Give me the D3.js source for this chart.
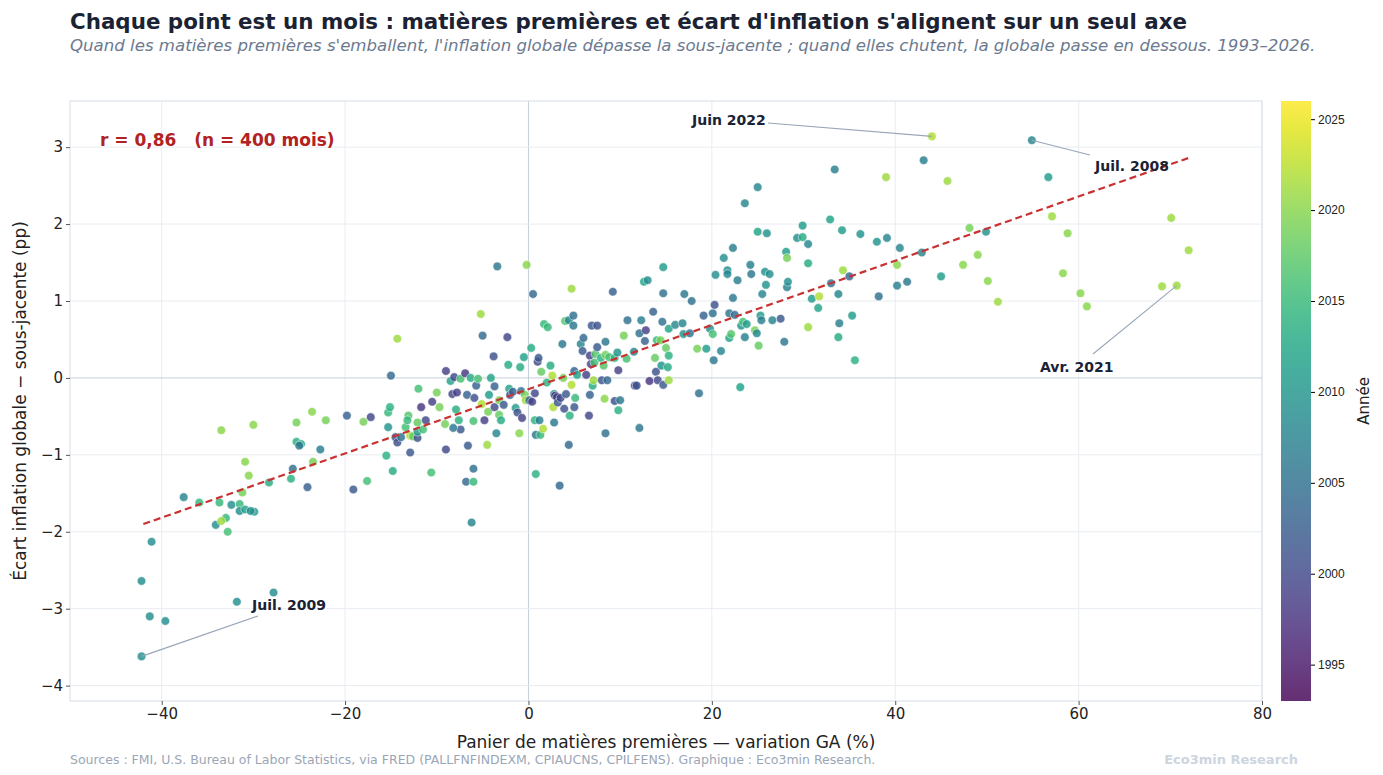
<!DOCTYPE html>
<html><head><meta charset="utf-8">
<script src="https://cdn.jsdelivr.net/npm/d3@7"></script>
<style>body{margin:0;background:#fff;font-family:"DejaVu Sans",sans-serif}</style>
</head><body><svg id="chart" width="1383" height="775"></svg>
<script>
// [commodity YoY %, headline - core (pp), year]
var points = [
[-42.2,-2.64,2009],[-41.1,-2.13,2009],[-41.3,-3.10,2009],[-39.6,-3.16,2009],[-42.2,-3.62,2009],[-31.8,-2.91,2009],[-27.8,-2.79,2009],
[-37.6,-1.55,2008],[-35.9,-1.62,2015],[-34.1,-1.91,2009],[-33.7,-1.62,2015],[-33.0,-1.82,2015],[-32.8,-2.0,2016],[-32.4,-1.65,2009],
[-31.5,-1.64,2015],[-31.5,-1.73,2009],[-31.2,-1.49,2019],[-30.9,-1.71,2012],[-29.9,-1.74,2011],[-30.3,-1.73,2009],[-33.5,-1.86,2021],
[-33.5,-0.68,2020],[-30.0,-0.61,2020],[-30.9,-1.09,2020],[-30.5,-1.27,2020],[-28.3,-1.36,2013],[-25.9,-1.31,2014],[-25.7,-1.18,2005],
[-24.1,-1.42,2003],[-23.5,-1.09,2019],[-22.7,-0.93,2007],[-25.3,-0.58,2019],[-25.3,-0.83,2014],[-24.8,-0.86,2013],[-25.0,-0.88,2006],
[-23.6,-0.44,2020],[-22.1,-0.55,2019],[-19.8,-0.49,2003],[-19.1,-1.45,2002],[-18.0,-0.57,2019],[-17.6,-1.34,2016],[-17.2,-0.51,2000],
[-15.5,-1.01,2014],[-15.3,-0.45,2015],[-15.3,-0.64,2010],[-15.1,-0.38,2014],[-15.0,0.03,2004],[-14.8,-1.21,2013],[-14.5,-0.77,2001],
[-14.3,-0.84,2001],[-14.3,0.51,2021],[-13.9,-0.77,2005],[-13.4,-0.64,2016],[-13.1,-0.49,2017],[-12.9,-0.97,2002],[-13.2,-0.55,2015],
[-12.9,-0.75,2022],[-12.6,-0.76,2018],[-12.1,-0.78,2001],[-12.1,-0.58,2018],[-12.0,-0.14,2016],[-12.1,-0.70,2011],[-11.7,-0.38,1998],
[-11.5,-0.67,2016],[-11.2,-0.55,2000],[-10.6,-1.23,2016],[-10.5,-0.31,1999],[-10.0,-0.19,2019],[-9.7,-0.38,2019],[-9.1,-0.60,2019],
[-9.0,-0.93,2000],[-9.0,0.09,1999],[-8.5,-0.04,2012],[-8.3,-0.21,2000],[-8.1,0.01,2000],[-7.9,-0.41,2013],[-7.8,-0.19,1999],
[-7.6,-0.55,2014],[-7.4,-0.67,2002],[-8.2,-0.65,2006],[-7.4,-0.01,2016],[-6.9,0.06,1998],[-6.8,-1.35,2004],[-6.6,-0.88,2002],
[-6.7,-0.22,2003],[-6.3,0.0,2013],[-6.0,-1.18,2005],[-6.0,-1.35,2015],[-6.2,-1.88,2008],[-6.0,-0.56,2016],[-5.9,-0.26,2001],
[-5.7,-0.1,2003],[-5.5,-0.01,2016],[-5.2,0.83,2021],[-5.1,-0.34,2022],[-5.0,0.55,2004],[-4.8,-0.55,1999],[-4.5,-0.87,2021],
[-4.4,-0.44,2019],[-4.3,-0.22,2011],[-4.1,0.0,2012],[-3.8,0.28,2001],[-3.7,-0.38,2000],[-3.7,-0.11,2003],[-3.5,-0.72,2008],
[-3.4,1.45,2006],[-3.2,-0.48,2018],[-3.2,-0.29,2019],[-3.0,-0.55,2013],[-2.7,-0.35,2002],[-2.3,0.53,2000],[-2.2,0.17,2013],
[-2.1,-0.14,2012],[-2.0,-0.22,2002],[-1.7,-0.18,2003],[-1.4,-0.39,2011],[-1.2,-0.45,2001],[-1.0,-0.72,2020],[-0.9,0.14,2013],
[-0.8,-0.17,2006],[-0.7,-0.52,1999],[-0.5,0.27,2012],[-0.4,-0.22,2019],[-0.3,-0.29,2021],[-0.2,1.47,2020],[0.1,-0.29,2003],
[0.3,0.39,2013],[0.4,-0.31,1999],[0.5,1.09,2004],[0.7,-0.2,2000],[0.8,-1.25,2014],[0.7,-0.55,2014],[0.8,-0.74,2006],
[1.0,0.21,2000],[1.1,0.26,2002],[1.2,-0.55,2007],[1.3,-0.74,2015],[1.4,0.08,2018],[1.6,-0.66,2022],[1.7,0.7,2015],
[2.0,-0.06,2014],[2.1,0.66,2015],[2.4,0.16,2013],[2.6,0.03,2022],[2.7,-0.38,2022],[2.8,-0.21,2008],[2.8,-0.58,2006],
[2.9,-0.23,1998],[3.1,-0.25,1999],[3.2,-0.32,2002],[3.4,-1.4,2004],[3.5,-0.26,2000],[3.7,0.44,2006],[3.8,0.0,2019],
[3.9,-0.40,2001],[4.0,0.74,2017],[4.1,-0.21,2002],[4.4,0.75,2008],[4.4,-0.87,2004],[4.5,-0.49,2014],[4.7,-0.09,2022],
[4.7,1.16,2021],[4.9,0.81,2005],[4.9,0.68,2006],[5.0,0.09,2003],[5.0,-0.38,2002],[5.1,-0.26,2015],[5.3,0.04,2012],
[5.7,0.44,2008],[5.9,0.35,2002],[6.0,0.52,2004],[6.3,0.04,1999],[6.6,-0.49,2000],[6.7,0.29,1999],[6.7,-0.22,2003],
[6.8,0.18,2000],[6.9,0.68,2002],[7.0,-0.1,2013],[7.1,-0.03,2021],[7.2,0.2,2016],[7.3,0.31,2017],[7.5,0.68,2001],
[7.5,0.40,2002],[7.9,0.26,2014],[8.0,-0.03,2001],[8.2,0.16,2017],[8.3,-0.27,2020],[8.4,0.47,2006],[8.4,0.30,2019],
[8.4,-0.72,2005],[8.6,-0.03,2004],[8.8,0.27,2016],[9.2,1.12,2003],[9.4,0.26,2014],[9.4,-0.3,2001],[9.7,0.33,2010],
[9.8,0.10,1999],[9.8,-0.42,2014],[10.0,-0.29,2006],[10.4,0.55,2019],[10.7,0.25,2016],[10.8,0.75,2005],[11.5,0.34,2008],
[11.6,-0.1,2000],[11.8,-0.1,2001],[12.1,0.58,2005],[12.1,-0.65,2006],[12.3,0.75,2007],[12.6,1.25,2012],[12.7,0.48,2003],
[12.8,0.62,1999],[13.0,1.27,2009],[13.2,-0.04,1998],[13.6,0.86,2003],[13.8,0.26,2018],[13.9,0.08,2001],[14.0,0.49,2015],
[14.1,-0.03,2000],[14.4,0.49,2019],[14.5,0.16,2010],[14.6,0.73,2005],[14.7,1.44,2011],[14.7,1.1,2005],[14.7,-0.09,2002],
[15.0,0.39,2018],[15.2,0.14,2013],[15.3,-0.03,2021],[15.3,0.64,2012],[15.3,0.29,2014],[16.0,0.69,2008],[16.8,0.71,2008],
[16.9,0.57,2010],[17.0,1.09,2006],[17.6,0.58,2005],[17.8,1.0,2005],[18.4,0.38,2019],[18.6,-0.2,2005],[19.1,0.81,2003],
[19.4,0.38,2011],[19.8,0.64,2009],[20.1,0.84,2005],[20.1,0.57,2016],[20.2,0.23,2006],[20.3,0.95,2001],[20.4,1.34,2009],
[21.0,0.35,2008],[21.3,1.56,2009],[21.7,1.4,2009],[21.7,1.35,2008],[21.9,0.52,2012],[21.9,0.84,2006],[22.1,0.57,2017],
[22.3,1.69,2007],[22.3,1.04,2006],[22.5,0.82,2004],[22.8,1.27,2007],[23.1,-0.12,2012],[23.2,0.68,2010],[23.4,0.73,2016],
[23.6,2.27,2008],[23.6,0.53,2007],[23.8,0.70,2011],[24.2,1.47,2007],[24.3,1.35,2006],[24.7,0.62,2019],[24.9,0.58,2008],
[25.0,2.48,2008],[25.0,1.9,2012],[25.1,0.42,2018],[25.3,0.81,2011],[25.4,0.75,2007],[25.5,1.09,2008],[25.8,1.38,2010],
[25.9,1.21,2010],[26.0,1.88,2010],[26.3,1.35,2009],[26.6,0.75,2008],[27.5,0.77,2002],[27.9,0.47,2006],[28.1,1.64,2011],
[28.2,1.56,2019],[28.2,1.18,2007],[28.3,1.25,2009],[29.3,1.82,2009],[29.9,1.98,2011],[29.9,1.83,2013],[30.5,1.74,2008],
[30.5,1.49,2013],[30.5,0.66,2021],[30.9,1.03,2011],[31.6,0.91,2012],[31.7,1.06,2022],[32.9,2.06,2012],[33.0,1.23,2005],
[33.4,2.71,2007],[33.8,1.09,2008],[33.8,0.53,2013],[33.9,0.71,2007],[34.2,1.92,2011],[34.3,1.40,2021],[35.0,1.32,2004],
[35.3,0.81,2011],[35.6,0.23,2014],[36.2,1.87,2010],[38.0,1.77,2010],[38.2,1.06,2005],[39.0,2.61,2021],[39.1,1.82,2008],
[40.2,1.47,2020],[40.2,1.20,2007],[40.5,1.69,2008],[41.3,1.25,2006],[42.9,1.63,2008],[43.1,2.83,2007],[44.0,3.14,2022],
[45.0,1.32,2011],[45.7,2.56,2021],[47.4,1.47,2020],[48.1,1.95,2019],[49.0,1.60,2020],[49.9,1.90,2010],[50.1,1.26,2020],
[51.2,0.99,2021],[54.9,3.09,2008],[56.7,2.61,2011],[57.1,2.10,2021],[58.3,1.36,2020],[58.8,1.88,2020],[60.2,1.10,2020],
[60.9,0.93,2020],[69.1,1.19,2021],[70.1,2.08,2021],[70.7,1.20,2021],[72.0,1.66,2021]
];
var xTicks = [-40,-20,0,20,40,60,80];
var yTicks = [-4,-3,-2,-1,0,1,2,3];
var yearTicks = [1995,2000,2005,2010,2015,2020,2025];
var annotations = [
  {label:"Juin 2022", x:44.0, y:3.14, tx:692, ty:125, lx:768, ly:123},
  {label:"Juil. 2008", x:54.9, y:3.09, tx:1095, ty:171, lx:1090, ly:155},
  {label:"Avr. 2021", x:70.7, y:1.20, tx:1040, ty:372, lx:1093, ly:354},
  {label:"Juil. 2009", x:-42.2, y:-3.62, tx:252, ty:610, lx:258, ly:616}
];
var trendLine = [[-42, -1.9], [72, 2.86]];

var svg = d3.select("#chart");
var L = 70, R = 1262, T = 101, B = 701;
var x = d3.scaleLinear().domain([-50, 80]).range([L, R]);
var y = d3.scaleLinear().domain([-4.2, 3.6]).range([B, T]);
var color = d3.scaleSequential(d3.interpolateViridis).domain([1993, 2026]);

svg.append("text").attr("x", 70).attr("y", 29).attr("font-size", 21.4).attr("font-weight", "bold")
  .attr("fill", "#1a2233").text("Chaque point est un mois : matières premières et écart d'inflation s'alignent sur un seul axe");
svg.append("text").attr("x", 70).attr("y", 51).attr("font-size", 16.6).attr("font-style", "italic")
  .attr("fill", "#6b7a90").text("Quand les matières premières s'emballent, l'inflation globale dépasse la sous-jacente ; quand elles chutent, la globale passe en dessous. 1993–2026.");

// grid
svg.append("g").selectAll("line").data(xTicks).join("line")
  .attr("x1", d => x(d)).attr("x2", d => x(d)).attr("y1", T).attr("y2", B)
  .attr("stroke", d => d === 0 ? "#c5cfdb" : "#e8ecf1");
svg.append("g").selectAll("line").data(yTicks).join("line")
  .attr("x1", L).attr("x2", R).attr("y1", d => y(d)).attr("y2", d => y(d))
  .attr("stroke", d => d === 0 ? "#c5cfdb" : "#e8ecf1");
svg.append("rect").attr("x", L).attr("y", T).attr("width", R - L).attr("height", B - T)
  .attr("fill", "none").attr("stroke", "#d5dce5");

var xa = svg.append("g").attr("transform", `translate(0,${B})`)
  .call(d3.axisBottom(x).tickValues(xTicks).tickSize(4).tickFormat(d3.format("d")));
var ya = svg.append("g").attr("transform", `translate(${L},0)`)
  .call(d3.axisLeft(y).tickValues(yTicks).tickSize(4).tickFormat(d => d < 0 ? "−" + Math.abs(d) : d));
[xa, ya].forEach(a => {
  a.select(".domain").remove();
  a.selectAll("text").attr("font-size", 15).attr("fill", "#222").attr("font-family", "DejaVu Sans");
  a.selectAll("line").attr("stroke", "#555");
});

svg.append("g").selectAll("circle").data(points).join("circle")
  .attr("cx", d => x(d[0])).attr("cy", d => y(d[1])).attr("r", 4.3)
  .attr("fill", d => color(d[2])).attr("fill-opacity", 0.82)
  .attr("stroke", "#fff").attr("stroke-width", 0.5);

svg.append("line").attr("x1", x(trendLine[0][0])).attr("y1", y(trendLine[0][1]))
  .attr("x2", x(trendLine[1][0])).attr("y2", y(trendLine[1][1]))
  .attr("stroke", "#c83232").attr("stroke-width", 2.2).attr("stroke-dasharray", "7,4");

svg.append("text").attr("x", 100).attr("y", 146).attr("font-size", 17).attr("font-weight", "bold")
  .attr("fill", "#b22222").attr("xml:space", "preserve").text("r = 0,86   (n = 400 mois)");

annotations.forEach(a => {
  svg.append("line").attr("x1", a.lx).attr("y1", a.ly).attr("x2", x(a.x)).attr("y2", y(a.y))
    .attr("stroke", "#98a6b8").attr("stroke-width", 1.1);
  svg.append("text").attr("x", a.tx).attr("y", a.ty).attr("font-size", 14).attr("font-weight", "bold")
    .attr("fill", "#1a2233").text(a.label);
});

svg.append("text").attr("x", (L + R) / 2).attr("y", 748).attr("text-anchor", "middle")
  .attr("font-size", 17).attr("fill", "#222").text("Panier de matières premières — variation GA (%)");
svg.append("text").attr("transform", "translate(26,401) rotate(-90)").attr("text-anchor", "middle")
  .attr("font-size", 17).attr("fill", "#222").text("Écart inflation globale − sous-jacente (pp)");

// colorbar
var cbX = 1281, cbW = 30;
var cy = d3.scaleLinear().domain([1993, 2026]).range([B, T]);
var defs = svg.append("defs");
var grad = defs.append("linearGradient").attr("id", "cb").attr("x1", 0).attr("x2", 0).attr("y1", 1).attr("y2", 0);
d3.range(0, 1.01, 0.05).forEach(t => grad.append("stop").attr("offset", t)
  .attr("stop-color", color(1993 + t * 33)).attr("stop-opacity", 0.82));
svg.append("rect").attr("x", cbX).attr("y", T).attr("width", cbW).attr("height", B - T).attr("fill", "url(#cb)");
var ca = svg.append("g").attr("transform", `translate(${cbX + cbW},0)`)
  .call(d3.axisRight(cy).tickValues(yearTicks).tickSize(4).tickFormat(d3.format("d")));
ca.select(".domain").remove();
ca.selectAll("text").attr("font-size", 12).attr("fill", "#222");
svg.append("text").attr("transform", "translate(1369,401) rotate(-90)").attr("text-anchor", "middle")
  .attr("font-size", 15).attr("fill", "#222").text("Année");

svg.append("text").attr("x", 70).attr("y", 764).attr("font-size", 12.5).attr("fill", "#9aa6b6")
  .text("Sources : FMI, U.S. Bureau of Labor Statistics, via FRED (PALLFNFINDEXM, CPIAUCNS, CPILFENS). Graphique : Eco3min Research.");
svg.append("text").attr("x", 1298).attr("y", 764).attr("text-anchor", "end").attr("font-size", 13)
  .attr("font-weight", "bold").attr("fill", "#cdd5df").text("Eco3min Research");
</script></body></html>
